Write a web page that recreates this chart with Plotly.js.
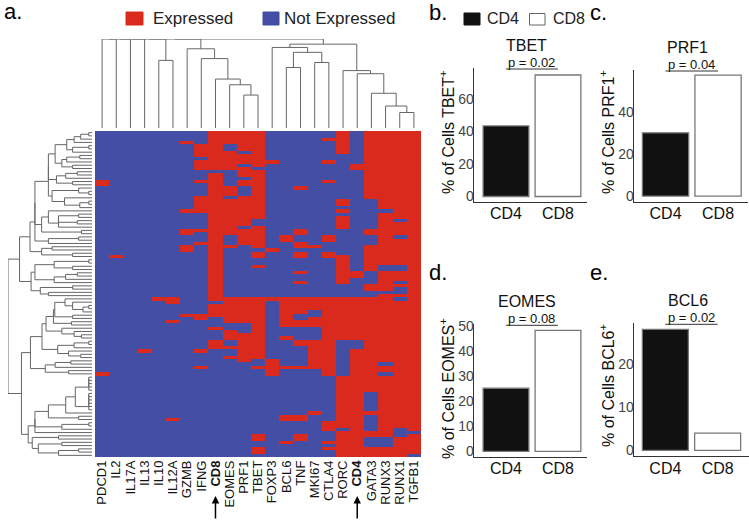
<!DOCTYPE html>
<html>
<head>
<meta charset="utf-8">
<script src="https://cdn.plot.ly/plotly-3.0.1.min.js"></script>
<style>
  body { margin: 0; background: #fff; }
  #chart { width: 749px; height: 520px; }
</style>
</head>
<body>
<div id="chart"></div>
<script>
// genes on the heatmap columns (left to right)
const genes = ['PDCD1', 'IL2', 'IL17A', 'IL13', 'IL10', 'IL12A', 'GZMB', 'IFNG', 'CD8', 'EOMES', 'PRF1', 'TBET',
    'FOXP3', 'BCL6', 'TNF', 'MKI67', 'CTLA4', 'RORC', 'CD4', 'GATA3', 'RUNX3', 'RUNX1', 'TGFB1'];
const boldGenes = ['CD8', 'CD4'];
const nCells = 100;

// rows where each gene is expressed, [from, to) in cell order (read off the picture)
const expressedRuns = [
    [[15, 17], [74, 75]],                                                         // PDCD1
    [[38, 39]],                                                                   // IL2
    [],                                                                           // IL17A
    [[67, 68]],                                                                   // IL13
    [[51, 52]],                                                                   // IL10
    [[51, 53], [58, 59], [88, 89]],                                               // IL12A
    [[3, 4], [24, 25], [30, 32], [35, 37], [56, 57]],                             // GZMB
    [[4, 8], [9, 12], [15, 16], [20, 25], [30, 31], [34, 35], [56, 58], [67, 68], [72, 73]], // IFNG
    [[0, 12], [13, 52], [53, 57], [60, 61], [64, 67]],                            // CD8
    [[0, 4], [6, 12], [17, 20], [21, 32], [35, 36], [51, 59], [61, 64], [66, 67], [69, 70]], // EOMES
    [[0, 6], [7, 10], [11, 14], [15, 17], [20, 29], [30, 35], [51, 59], [62, 71]], // PRF1
    [[0, 11], [12, 27], [29, 36], [37, 39], [41, 42], [51, 70], [72, 73], [93, 95], [97, 99]], // TBET
    [[9, 10], [36, 37], [51, 52], [70, 75]],                                      // FOXP3
    [[32, 34], [51, 60], [63, 64], [72, 73], [87, 89], [95, 96]],                 // BCL6
    [[17, 18], [30, 32], [34, 36], [37, 39], [43, 44], [46, 47], [51, 56], [58, 60], [64, 66], [72, 73], [87, 89], [93, 95]], // TNF
    [[35, 36], [51, 55], [57, 60], [64, 73], [86, 87]],                           // MKI67
    [[2, 3], [9, 10], [15, 16], [32, 34], [37, 39], [51, 75], [89, 92], [95, 96], [97, 98]], // CTLA4
    [[0, 7], [21, 23], [24, 25], [26, 30], [38, 47], [51, 64], [75, 91], [92, 100]], // RORC
    [[10, 12], [43, 45], [51, 64], [67, 100]],                                    // CD4
    [[0, 21], [30, 32], [35, 43], [47, 49], [51, 80], [86, 87], [92, 94], [97, 100]], // GATA3
    [[0, 24], [25, 41], [43, 49], [50, 71], [72, 74], [75, 94], [97, 100]],       // RUNX3
    [[0, 27], [28, 32], [33, 41], [43, 46], [47, 48], [50, 51], [52, 91], [94, 100]], // RUNX1
    [[0, 92], [93, 99]]                                                           // TGFB1
];

// gene dendrogram: [childA, childB, height]; leaves are 0..22, merge k makes node 23 + k
const geneMerges = [
    [21, 22, 0.174], [20, 23, 0.247], [19, 24, 0.39], [18, 25, 0.61], [17, 26, 0.645],
    [13, 14, 0.68], [15, 16, 0.736], [28, 29, 0.85], [12, 30, 0.905], [31, 27, 0.942],
    [10, 11, 0.37], [9, 33, 0.486], [8, 34, 0.55], [7, 35, 0.78], [6, 36, 0.89],
    [4, 5, 0.76],
    [0, 1, 1], [39, 2, 1], [40, 3, 1], [41, 38, 1], [42, 37, 1], [43, 32, 1]
];

// bar panels
const markers = ['TBET', 'PRF1', 'EOMES', 'BCL6'];
const groups = ['CD4', 'CD8'];
const pctCD4 = [43.3, 30.1, 25.3, 28.0];
const pctCD8 = [74.5, 57.6, 48.5, 4.0];
const pValues = ['0.02', '0.04', '0.08', '0.02'];
const panelLetters = ['b.', 'c.', 'd.', 'e.'];

const RED = '#DA2A1D';
const BLUE = '#434EA4';
const LINE_GRAY = '#666666';
const FONT = 'Liberation Sans, Arial, sans-serif';
const W = 749, H = 520;

// build 0/1 matrix (rows = cells, cols = genes)
const matrix = [];
for (let r = 0; r < nCells; r++) matrix.push(genes.map(() => 0));
expressedRuns.forEach((runs, g) => {
    runs.forEach(([a, b]) => {
        for (let r = a; r < b; r++) matrix[r][g] = 1;
    });
});

// column dendrogram segments
function geneDendroSegments() {
    const pos = genes.map((g, i) => i);
    const hgt = genes.map(() => 0);
    const xs = [], ys = [];
    geneMerges.forEach(([a, b, h]) => {
        xs.push(pos[a], pos[a], pos[b], pos[b], null);
        ys.push(hgt[a], h, h, hgt[b], null);
        pos.push((pos[a] + pos[b]) / 2);
        hgt.push(h);
    });
    return { xs, ys };
}

// row dendrogram: neighbour-constrained complete linkage, binary distance
function binaryDist(a, b) {
    let both = 0, either = 0;
    for (let k = 0; k < a.length; k++) {
        if (a[k] || b[k]) either++;
        if (a[k] && b[k]) both++;
    }
    return either ? 1 - both / either : 0;
}

function rowDendroSegments() {
    let clusters = matrix.map((row, i) => ({ rows: [i], pos: i, h: 0 }));
    const xs = [], ys = [];
    const lift = 0.04; // so identical rows still show a small bracket
    while (clusters.length > 1) {
        let best = 0, bestD = Infinity;
        for (let k = 0; k < clusters.length - 1; k++) {
            let d = 0;
            clusters[k].rows.forEach(i => clusters[k + 1].rows.forEach(j => {
                d = Math.max(d, binaryDist(matrix[i], matrix[j]));
            }));
            if (d < bestD - 1e-9) { bestD = d; best = k; }
        }
        const a = clusters[best], b = clusters[best + 1];
        const h = Math.max(bestD + lift, a.h, b.h);
        xs.push(a.h, h, h, b.h, null);
        ys.push(a.pos, a.pos, b.pos, b.pos, null);
        clusters.splice(best, 2, { rows: a.rows.concat(b.rows), pos: (a.pos + b.pos) / 2, h: h });
    }
    return { xs, ys, top: clusters[0].h };
}

const geneTree = geneDendroSegments();
const rowTree = rowDendroSegments();

const traces = [];

traces.push({
    type: 'heatmap',
    z: matrix,
    x: genes.map((g, i) => i),
    y: matrix.map((r, i) => i),
    zmin: 0, zmax: 1,
    colorscale: [[0, BLUE], [0.5, BLUE], [0.5, RED], [1, RED]],
    showscale: false,
    hoverinfo: 'skip',
    xaxis: 'x', yaxis: 'y'
});

traces.push({
    type: 'scatter', mode: 'lines',
    x: geneTree.xs, y: geneTree.ys,
    line: { color: LINE_GRAY, width: 1 },
    hoverinfo: 'skip', showlegend: false,
    xaxis: 'x2', yaxis: 'y2'
});

traces.push({
    type: 'scatter', mode: 'lines',
    x: rowTree.xs, y: rowTree.ys,
    line: { color: LINE_GRAY, width: 1 },
    hoverinfo: 'skip', showlegend: false,
    xaxis: 'x3', yaxis: 'y3'
});

// bar panels layout: x domain px, y top/bottom px, ranges
const panels = [
    { xd: [474, 587], yd: [68, 201.7], yr: [-3.2, 78.8], ticks: [0, 20, 40, 60], xr: [-0.615, 1.558], ty: 132 },
    { xd: [634, 748], yd: [70, 201.7], yr: [-2.7, 60], ticks: [0, 20, 40], xr: [-0.6, 1.57], ty: 132 },
    { xd: [474, 587], yd: [324.3, 456.7], yr: [-2.1, 50.9], ticks: [0, 10, 20, 30, 40, 50], xr: [-0.615, 1.558], ty: 389 },
    { xd: [634, 749], yd: [323.3, 456], yr: [-1.3, 29.4], ticks: [0, 10, 20], xr: [-0.6, 1.6], ty: 386 }
];

const layout = {
    width: W, height: H,
    margin: { l: 0, r: 0, t: 0, b: 0 },
    paper_bgcolor: '#ffffff',
    plot_bgcolor: 'rgba(0,0,0,0)',
    font: { family: FONT, color: '#000' },
    barmode: 'overlay',
    hovermode: false,
    showlegend: false,
    xaxis: {
        domain: [95 / W, 421 / W], range: [-0.5, 22.5],
        tickvals: genes.map((g, i) => i),
        ticktext: genes.map(g => boldGenes.includes(g) ? '<b>' + g + '</b>' : g),
        tickangle: -90, tickfont: { size: 13, color: '#111' },
        ticks: '', showgrid: false, zeroline: false, showline: false, anchor: 'y', fixedrange: true
    },
    yaxis: {
        domain: [1 - 457 / H, 1 - 131 / H], range: [nCells - 0.5, -0.5],
        showticklabels: false, ticks: '', showgrid: false, zeroline: false, anchor: 'x'
    },
    xaxis2: { domain: [95 / W, 421 / W], range: [-0.5, 22.5], visible: false, anchor: 'y2' },
    yaxis2: { domain: [1 - 128 / H, 1 - 39 / H], range: [0, 1], visible: false, anchor: 'x2' },
    xaxis3: { domain: [8 / W, 92 / W], range: [rowTree.top, 0], visible: false, anchor: 'y3' },
    yaxis3: { domain: [1 - 457 / H, 1 - 131 / H], range: [nCells - 0.5, -0.5], visible: false, anchor: 'x3' },
    shapes: [],
    annotations: [
        { text: 'a.', x: 2 / W, y: 1 - 11 / H, xref: 'paper', yref: 'paper', xanchor: 'left', yanchor: 'middle', showarrow: false, font: { size: 22 } }
    ]
};

// legend keys (heatmap and bars)
const legendKeys = [
    { label: 'Expressed', fill: RED, line: RED, box: [126, 143, 12, 25], tx: 151, size: 17 },
    { label: 'Not Expressed', fill: BLUE, line: BLUE, box: [263, 279, 12, 25], tx: 282, size: 17 },
    { label: 'CD4', fill: '#111111', line: '#111111', box: [464, 480, 13, 25], tx: 485, size: 16 },
    { label: 'CD8', fill: '#ffffff', line: '#666666', box: [529.5, 545, 13.5, 25], tx: 551, size: 16 }
];
legendKeys.forEach(k => {
    layout.shapes.push({
        type: 'rect', xref: 'paper', yref: 'paper',
        x0: k.box[0] / W, x1: k.box[1] / W, y0: 1 - k.box[3] / H, y1: 1 - k.box[2] / H,
        fillcolor: k.fill, line: { color: k.line, width: 1 }
    });
    layout.annotations.push({
        text: k.label, x: k.tx / W, y: 1 - 19 / H, xref: 'paper', yref: 'paper',
        xanchor: 'left', yanchor: 'middle', showarrow: false, font: { size: k.size, color: '#222' }
    });
});

// arrows under CD8 and CD4
boldGenes.forEach(g => {
    layout.annotations.push({
        text: '', x: genes.indexOf(g), y: 1 - 496 / H, xref: 'x', yref: 'paper',
        showarrow: true, ax: 0, ay: 24, arrowhead: 2, arrowsize: 1, arrowwidth: 1.5, arrowcolor: '#000'
    });
});

markers.forEach((m, i) => {
    const p = panels[i];
    const n = i + 4;
    const xa = 'xaxis' + n, ya = 'yaxis' + n;
    const xyx = 'x' + n, xyy = 'y' + n;

    layout[xa] = {
        domain: [p.xd[0] / W, Math.min(1, p.xd[1] / W)], range: p.xr,
        type: 'category', categoryarray: groups,
        showline: true, linecolor: '#333', linewidth: 1.3, ticks: '', ticklabelstandoff: -3,
        showgrid: false, zeroline: false, tickfont: { size: 16, color: '#111' }, anchor: xyy
    };
    layout[ya] = {
        domain: [1 - p.yd[1] / H, 1 - p.yd[0] / H], range: p.yr,
        tickvals: p.ticks, showline: true, linecolor: '#333', linewidth: 1.3, ticks: '', ticklabelstandoff: -4,
        showgrid: false, zeroline: false, tickfont: { size: 14, color: '#444' },
        anchor: xyx
    };

    traces.push({
        type: 'bar', x: ['CD4'], y: [pctCD4[i]], width: 0.88, name: 'CD4',
        marker: { color: '#111111', line: { color: '#777', width: 1.3 } },
        xaxis: xyx, yaxis: xyy
    });
    traces.push({
        type: 'bar', x: ['CD8'], y: [pctCD8[i]], width: 0.88, name: 'CD8',
        marker: { color: '#ffffff', line: { color: '#777', width: 1.3 } },
        xaxis: xyx, yaxis: xyy
    });

    // y axis title, placed beside the tick labels
    layout.annotations.push({
        text: '% of Cells ' + m + '<sup>+</sup>', textangle: -90,
        x: (p.xd[0] - 27) / W, y: 1 - p.ty / H, xref: 'paper', yref: 'paper',
        xanchor: 'center', yanchor: 'middle', showarrow: false, font: { size: 16, color: '#111' }
    });

    const midX = ((p.xd[0] + p.xd[1]) / 2 - 4) / W;
    const topY = p.yd[0];
    layout.annotations.push({
        text: m, x: midX, y: 1 - (topY - 23) / H, xref: 'paper', yref: 'paper',
        xanchor: 'center', yanchor: 'middle', showarrow: false, font: { size: 16, color: '#111' }
    });
    layout.annotations.push({
        text: 'p = ' + pValues[i], x: 0.5, y: 1 - (topY - 6) / H, xref: xyx, yref: 'paper',
        xanchor: 'center', yanchor: 'middle', showarrow: false, font: { size: 13, color: '#111' }
    });
    layout.shapes.push({
        type: 'line', xref: xyx, yref: 'paper', x0: 0, x1: 1, y0: 1 - (topY + 1) / H, y1: 1 - (topY + 1) / H,
        line: { color: '#333', width: 1 }
    });
    layout.annotations.push({
        text: panelLetters[i], x: (i % 2 === 0 ? 427 : 588) / W, y: 1 - (i < 2 ? 12 : 272) / H,
        xref: 'paper', yref: 'paper', xanchor: 'left', yanchor: 'middle', showarrow: false, font: { size: 22 }
    });
});

Plotly.newPlot('chart', traces, layout, { displayModeBar: false, staticPlot: true });
</script>
</body>
</html>
